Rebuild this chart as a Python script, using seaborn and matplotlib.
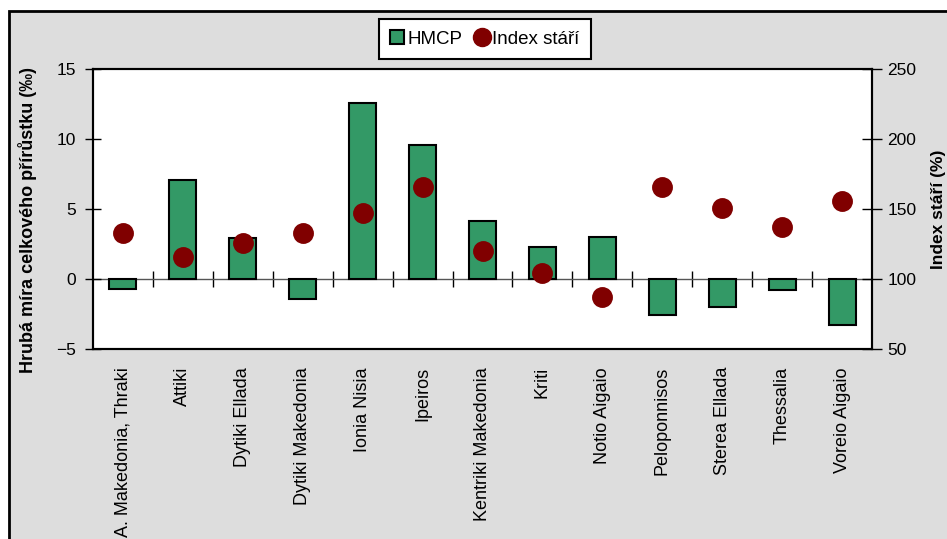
import numpy as np
import matplotlib
matplotlib.use("Agg")
import matplotlib.pyplot as plt
import seaborn as sns
from matplotlib.patches import Rectangle, Patch
from matplotlib.lines import Line2D

# Data
regions = ["A. Makedonia, Thraki", "Attiki", "Dytiki Ellada", "Dytiki Makedonia",
           "Ionia Nisia", "Ipeiros", "Kentriki Makedonia", "Kriti", "Notio Aigaio",
           "Peloponnisos", "Sterea Ellada", "Thessalia", "Voreio Aigaio"]
hmcp = [-0.7, 7.1, 2.9, -1.45, 12.6, 9.6, 4.15, 2.3, 3.0, -2.6, -2.0, -0.75, -3.3]
index_stari = [133, 116, 126, 133, 147, 166, 120, 104, 87, 166, 151, 137, 156]

left_ticks = [-5, 0, 5, 10, 15]
right_ticks = [50, 100, 150, 200, 250]

bar_color = "#339966"
dot_color = "#800000"

sns.set_theme(style="white")
plt.rcParams["font.family"] = ["Liberation Sans", "DejaVu Sans"]
plt.rcParams["text.color"] = "black"
plt.rcParams["axes.labelcolor"] = "black"
plt.rcParams["xtick.color"] = "black"
plt.rcParams["ytick.color"] = "black"

W, H = 947, 539
fig = plt.figure(figsize=(W / 100, H / 100), dpi=100)
fig.patch.set_facecolor("white")

# grey chart area with black frame (cut off on the right and bottom)
frame = Rectangle((9 / W, -0.1), 1.2, 1.1 - 11 / H, transform=fig.transFigure,
                  facecolor="#dddddd", edgecolor="black", linewidth=2, zorder=-5)
fig.patches.append(frame)

# plot area
ax = fig.add_axes([93 / W, 1 - 349 / H, (872 - 93) / W, 280 / H])
ax.set_facecolor("white")

sns.barplot(x=regions, y=hmcp, color=bar_color, saturation=1, edgecolor="black",
            linewidth=1.5, width=0.45, ax=ax, zorder=2)

ax.set_ylim(-5, 15)
ax.set_yticks(left_ticks)
ax.set_xlim(-0.5, len(regions) - 0.5)
for s in ax.spines.values():
    s.set_color("black")
    s.set_linewidth(1.5)
ax.tick_params(axis="y", direction="inout", length=12, width=1, color="black",
               labelsize=12.5, pad=6, left=True)
ax.tick_params(axis="x", length=0, labelsize=13, pad=13, labelrotation=90)
ax.set_ylabel("Hrubá míra celkového přírůstku (‰)", fontsize=13, fontweight="bold")
ax.yaxis.set_label_coords(-0.072, 0.46)
ax.set_xlabel("")

# category axis crossing at zero
zero_frac = (0 - (-5)) / (15 - (-5))
sec = ax.secondary_xaxis(zero_frac)
sec.set_xticks(np.arange(0.5, len(regions) - 1, 1))
sec.set_xticklabels([])
sec.tick_params(direction="inout", length=12, width=1, color="black")
sec.spines["bottom"].set_color("#555555")
sec.spines["bottom"].set_linewidth(1)
sec.spines["top"].set_visible(False)

# secondary axis: Index stáří
ax2 = ax.twinx()
sns.pointplot(x=regions, y=index_stari, ax=ax2, color=dot_color, linestyle="none",
              markers="o", markersize=13, errorbar=None)
ax2.set_ylim(50, 250)
ax2.set_yticks(right_ticks)
ax2.tick_params(axis="y", direction="inout", length=14, width=1, color="black",
                labelsize=12.5, pad=4, right=True)
ax2.set_ylabel("Index stáří (%)", fontsize=12.5, fontweight="bold")
ax2.yaxis.set_label_coords(1.076, 0.5)
ax2.set_xlim(-0.5, len(regions) - 0.5)
for s in ax2.spines.values():
    s.set_color("black")
    s.set_linewidth(1.5)

handles = [Patch(facecolor=bar_color, edgecolor="black", linewidth=1.5, label="HMCP"),
           Line2D([], [], marker="o", linestyle="none", color=dot_color,
                  markersize=13, label="Index stáří")]
leg = fig.legend(handles=handles, loc="center", bbox_to_anchor=(485 / W, 1 - 39 / H),
                 ncol=2, fontsize=13.5, frameon=True, fancybox=False, handlelength=0.7,
                 handleheight=0.7, handletextpad=0.2, columnspacing=0.7,
                 borderpad=0.6, borderaxespad=0)
leg.get_frame().set_edgecolor("black")
leg.get_frame().set_linewidth(1.5)
leg.get_frame().set_facecolor("white")
leg.get_frame().set_alpha(1)

fig.savefig("out.png", dpi=100)
